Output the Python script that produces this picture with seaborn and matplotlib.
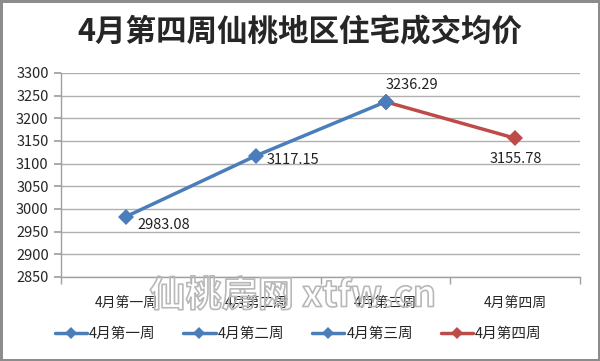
import matplotlib
matplotlib.use("Agg")
import matplotlib.pyplot as plt
import matplotlib.patheffects as pe
from matplotlib.lines import Line2D
import seaborn as sns
import pandas as pd

weeks = ["4月第一周", "4月第二周", "4月第三周", "4月第四周"]
prices = [2983.08, 3117.15, 3236.29, 3155.78]
y_ticks = [2850, 2900, 2950, 3000, 3050, 3100, 3150, 3200, 3250, 3300]
title = "4月第四周仙桃地区住宅成交均价"
watermark = "仙桃房网 xtfw.cn"

BLUE = "#4a7ebb"
RED = "#be4b48"

sns.set_theme(style="white")
plt.rcParams["font.family"] = ["Noto Sans CJK SC", "DejaVu Sans"]

idx = list(range(len(weeks)))
df = pd.DataFrame({
    "pos": idx[:3] + idx[2:],
    "price": prices[:3] + prices[2:],
    "seg": ["a"] * 3 + ["b"] * 2,
})

fig = plt.figure(figsize=(6.0, 3.61), dpi=100)
fig.patch.set_edgecolor("#8c8c8c")
fig.patch.set_linewidth(2.5)
ax = fig.add_axes([0.102, 0.233, 0.865, 0.565])

sns.lineplot(data=df, x="pos", y="price", hue="seg", palette={"a": BLUE, "b": RED},
             marker="D", markersize=8, markeredgewidth=0, linewidth=2.5,
             legend=False, ax=ax, sort=False, zorder=3)
ax.plot([2], [prices[2]], marker="D", color=BLUE, markersize=8, markeredgewidth=0, zorder=4)

ax.set_xlim(-0.5, 3.5)
ax.set_ylim(2850, 3300)
ax.set_yticks(y_ticks)
ax.set_xticks(idx)
ax.set_xticklabels(weeks, fontsize=10)
ax.set_xticks([i - 0.5 for i in range(len(weeks) + 1)], minor=True)
ax.tick_params(axis="x", which="major", length=0, pad=14)
ax.tick_params(axis="x", which="minor", length=5, color="#a0a0a0", direction="out", bottom=True)
ax.tick_params(axis="y", length=5, color="#a0a0a0", direction="out", left=True, labelsize=10.5, pad=4)
ax.set_xlabel("")
ax.set_ylabel("")
ax.grid(axis="y", color="#b0b0b0", linewidth=1)
ax.set_axisbelow(True)
for s in ["top", "right"]:
    ax.spines[s].set_visible(False)
for s in ["left", "bottom"]:
    ax.spines[s].set_color("#a0a0a0")
    ax.spines[s].set_linewidth(1)

offsets = [(8, -6, "left", "center"), (8, -3, "left", "center"),
           (0, 7, "left", "bottom"), (0, -10, "center", "top")]
for i, (dx, dy, ha, va) in enumerate(offsets):
    ax.annotate(f"{prices[i]:.2f}", (idx[i], prices[i]), xytext=(dx, dy),
                textcoords="offset points", ha=ha, va=va, fontsize=10.5, color="#222222")

fig.text(0.5, 0.91, title, ha="center", va="center", fontsize=22, fontweight="bold")

fig.text(0.488, 0.18, watermark, ha="center", va="center", fontsize=26, color=(1, 1, 1, 0),
         fontweight="bold",
         path_effects=[pe.Stroke(linewidth=1.2, foreground="#b8b8b8")], zorder=5)

handles = [Line2D([0], [0], color=c, marker="D", markersize=6, markeredgewidth=0, linewidth=2.5)
           for c in [BLUE, BLUE, BLUE, RED]]
fig.legend(handles, weeks, loc="center", bbox_to_anchor=(0.497, 0.075), ncol=4, frameon=False,
           fontsize=10.5, handlelength=2.2, handletextpad=0.15, columnspacing=1.9)

fig.savefig("out.png", dpi=100)
